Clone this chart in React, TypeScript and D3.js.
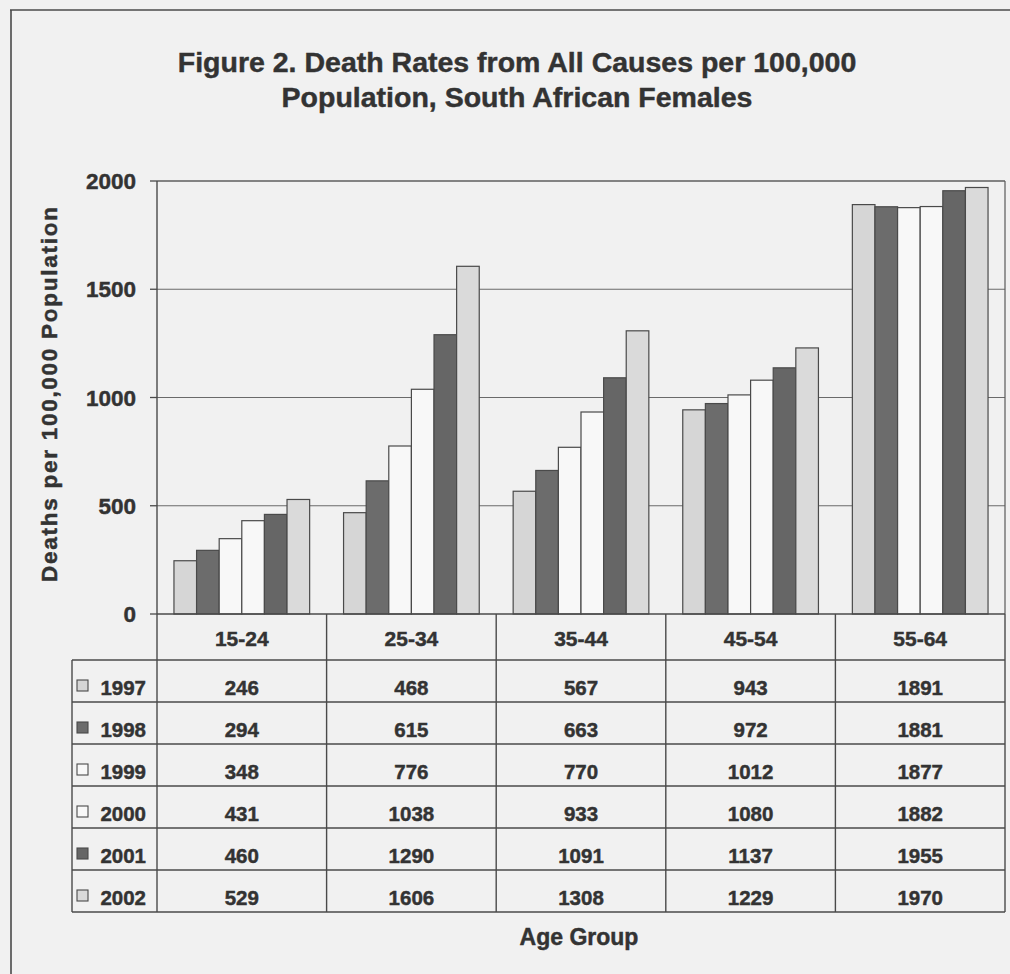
import React from "react";
import * as d3 from "d3";

// Age groups along the category axis
const ageGroups = ["15-24", "25-34", "35-44", "45-54", "55-64"];

// Years shown as series
const years = ["1997", "1998", "1999", "2000", "2001", "2002"];

// Death rates per 100,000 population, one array per year (same order as ageGroups)
const rates1997 = [246, 468, 567, 943, 1891];
const rates1998 = [294, 615, 663, 972, 1881];
const rates1999 = [348, 776, 770, 1012, 1877];
const rates2000 = [431, 1038, 933, 1080, 1882];
const rates2001 = [460, 1290, 1091, 1137, 1955];
const rates2002 = [529, 1606, 1308, 1229, 1970];

const seriesValues = [rates1997, rates1998, rates1999, rates2000, rates2001, rates2002];

// Y-axis ticks
const yTicks = [0, 500, 1000, 1500, 2000];

const titleLines = [
  "Figure 2. Death Rates from All Causes per 100,000",
  "Population, South African Females",
];

const W = 1010;
const H = 974;
const FONT = "'Liberation Sans', Arial, Helvetica, sans-serif";
const INK = "#333333";
const LINE = "#4a4a4a";
const BG = "#f1f1f1";

const seriesFill = ["#d6d6d6", "#6c6c6c", "#f8f8f8", "#f8f8f8", "#666666", "#dadada"];

// shared text styling: bold with a hairline stroke for a heavier face
const textStyle = {
  fontFamily: FONT,
  fontWeight: "bold" as const,
  fill: INK,
  stroke: INK,
  strokeWidth: 0.45,
};

export default function App() {
  const plotLeft = 157;
  const plotRight = 1005;
  const plotTop = 181;
  const plotBottom = 614;

  const x = d3.scaleBand<string>().domain(ageGroups).range([plotLeft, plotRight]);
  const bw = x.bandwidth();
  const inner = d3
    .scaleBand<string>()
    .domain(years)
    .range([bw * 0.1, bw * 0.9]);
  const y = d3.scaleLinear().domain([0, 2000]).range([plotBottom, plotTop]);

  // Data table geometry
  const headerBottom = 660;
  const rowH = 42;
  const tableLeft = 72;
  const rowY = (i: number) => headerBottom + i * rowH;
  const tableBottom = rowY(years.length);

  return (
    <div style={{ position: "fixed", left: 0, top: 0, width: W, height: H, overflow: "hidden", background: BG }}>
      <svg width={W} height={H} viewBox={`0 0 ${W} ${H}`} style={{ display: "block" }}>
        <rect x={0} y={0} width={W} height={H} fill={BG} />
        {/* outer frame: only its left and top edges fall inside the page */}
        <line x1={11} x2={11} y1={10} y2={H} stroke={LINE} strokeWidth={1.6} />
        <line x1={10} x2={W} y1={10} y2={10} stroke={LINE} strokeWidth={1.6} />

        {/* title */}
        {titleLines.map((t, i) => (
          <text key={t} x={517} y={72 + i * 35} textAnchor="middle" fontSize={28.5} {...textStyle}>
            {t}
          </text>
        ))}

        {/* gridlines, ticks and tick labels */}
        {yTicks.map((t) => (
          <g key={t}>
            {t > 0 && (
              <line x1={plotLeft} x2={plotRight} y1={y(t)} y2={y(t)} stroke="#6a6a6a" strokeWidth={1.1} />
            )}
            <line x1={plotLeft - 7} x2={plotLeft} y1={y(t)} y2={y(t)} stroke={LINE} strokeWidth={1.3} />
            <text x={136} y={y(t) + 8} textAnchor="end" fontSize={22.5} {...textStyle}>
              {t}
            </text>
          </g>
        ))}

        {/* bars */}
        {ageGroups.map((g, gi) => (
          <g key={g} transform={`translate(${x(g)},0)`}>
            {years.map((yr, si) => {
              const v = seriesValues[si][gi];
              return (
                <rect
                  key={yr}
                  x={inner(yr)}
                  y={y(v)}
                  width={inner.bandwidth()}
                  height={y(0) - y(v)}
                  fill={seriesFill[si]}
                  stroke={LINE}
                  strokeWidth={1.2}
                />
              );
            })}
          </g>
        ))}

        {/* plot frame */}
        <line x1={plotLeft} x2={plotRight} y1={plotTop} y2={plotTop} stroke="#5a5a5a" strokeWidth={1.2} />
        <line x1={plotRight} x2={plotRight} y1={plotTop} y2={plotBottom} stroke="#5a5a5a" strokeWidth={1.2} />
        <line x1={plotLeft} x2={plotLeft} y1={plotTop} y2={plotBottom} stroke={LINE} strokeWidth={1.4} />

        {/* y-axis title */}
        <text
          transform={`translate(57,${(207 + 582) / 2}) rotate(-90)`}
          textAnchor="middle"
          fontSize={22.5}
          textLength={375}
          lengthAdjust="spacing"
          {...textStyle}
        >
          Deaths per 100,000 Population
        </text>

        {/* data table */}
        <g>
          <line x1={plotLeft} x2={plotRight} y1={plotBottom} y2={plotBottom} stroke={LINE} strokeWidth={1.4} />
          {ageGroups.map((g) => (
            <text key={g} x={(x(g) ?? 0) + bw / 2} y={646} textAnchor="middle" fontSize={21} {...textStyle}>
              {g}
            </text>
          ))}
          {/* vertical separators */}
          {[...ageGroups.map((g) => x(g) ?? 0), plotRight].map((vx, i) => (
            <line key={i} x1={vx} x2={vx} y1={plotBottom} y2={tableBottom} stroke={LINE} strokeWidth={1.4} />
          ))}
          <line x1={tableLeft} x2={tableLeft} y1={headerBottom} y2={tableBottom} stroke={LINE} strokeWidth={1.4} />
          {/* horizontal rules */}
          {d3.range(years.length + 1).map((i) => (
            <line
              key={i}
              x1={tableLeft}
              x2={plotRight}
              y1={rowY(i)}
              y2={rowY(i)}
              stroke={LINE}
              strokeWidth={1.4}
            />
          ))}
          {/* rows */}
          {years.map((yr, si) => (
            <g key={yr}>
              <rect
                x={77}
                y={rowY(si) + 20}
                width={11}
                height={11}
                fill={seriesFill[si]}
                stroke={LINE}
                strokeWidth={1.1}
              />
              <text x={146} y={rowY(si) + 35} textAnchor="end" fontSize={20.5} {...textStyle}>
                {yr}
              </text>
              {ageGroups.map((g, gi) => (
                <text
                  key={g}
                  x={(x(g) ?? 0) + bw / 2}
                  y={rowY(si) + 35}
                  textAnchor="middle"
                  fontSize={20.5}
                  {...textStyle}
                >
                  {seriesValues[si][gi]}
                </text>
              ))}
            </g>
          ))}
        </g>

        {/* x-axis title */}
        <text x={579} y={945} textAnchor="middle" fontSize={23} {...textStyle}>
          Age Group
        </text>
      </svg>
    </div>
  );
}
